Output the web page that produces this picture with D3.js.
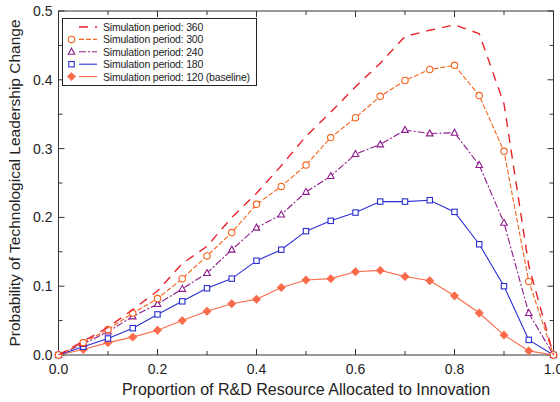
<!DOCTYPE html>
<html><head><meta charset="utf-8">
<script src="https://cdn.jsdelivr.net/npm/d3@7"></script>
<style>
html,body{margin:0;padding:0;background:#fff;}
svg{display:block;font-family:"Liberation Sans",Arial,Helvetica,sans-serif;}
</style></head>
<body>
<svg id="chart" width="560" height="402"></svg>
<script>
const xValues = [0,0.05,0.1,0.15,0.2,0.25,0.3,0.35,0.4,0.45,0.5,0.55,0.6,0.65,0.7,0.75,0.8,0.85,0.9,0.95,1.0];
const p360 = [0,0.02,0.04,0.066,0.093,0.133,0.158,0.2,0.235,0.275,0.318,0.353,0.39,0.424,0.463,0.472,0.48,0.467,0.365,0.13,0];
const p300 = [0,0.018,0.037,0.061,0.082,0.111,0.144,0.178,0.219,0.245,0.276,0.316,0.345,0.376,0.399,0.415,0.421,0.377,0.296,0.107,0];
const p240 = [0,0.016,0.034,0.056,0.074,0.096,0.119,0.153,0.185,0.204,0.237,0.260,0.292,0.306,0.327,0.322,0.323,0.276,0.192,0.061,0];
const p180 = [0,0.012,0.024,0.039,0.059,0.078,0.097,0.111,0.137,0.153,0.180,0.195,0.207,0.223,0.223,0.225,0.208,0.161,0.100,0.022,0];
const p120 = [0,0.008,0.018,0.026,0.036,0.050,0.0635,0.0746,0.081,0.098,0.109,0.111,0.121,0.123,0.114,0.108,0.086,0.061,0.029,0.006,0];
const seriesLabels = ["Simulation period: 360","Simulation period: 300","Simulation period: 240","Simulation period: 180","Simulation period: 120 (baseline)"];
const xTickLabels = ["0.0","0.2","0.4","0.6","0.8","1.0"];
const yTickLabels = ["0.0","0.1","0.2","0.3","0.4","0.5"];
const xTitle = "Proportion of R&D Resource Allocated to Innovation";
const yTitle = "Probability of Technological Leadership Change";

const styles = [
  {data:p360, color:"#e8222c", dash:"9,7", marker:null, width:1.4},
  {data:p300, color:"#f5641e", dash:"5,2", marker:"circle", width:1.1},
  {data:p240, color:"#8e1b8c", dash:"7,2,2,2", marker:"triangle", width:1.1},
  {data:p180, color:"#2b2fd0", dash:null, marker:"square", width:1.1},
  {data:p120, color:"#f96a4a", dash:null, marker:"diamond", width:1.1}
];

const svg = d3.select("#chart");
const L=58.5, R=553.5, T=11, B=355;
const x = d3.scaleLinear().domain([0,1]).range([L,R]);
const y = d3.scaleLinear().domain([0,0.5]).range([B,T]);

// frame
svg.append("rect").attr("x",L).attr("y",T).attr("width",R-L).attr("height",B-T)
  .attr("fill","none").attr("stroke","#333").attr("stroke-width",1);

// ticks (inward, all sides)
const xMajor = d3.range(0,1.0001,0.2), xMinor = d3.range(0.1,1,0.2);
const yMajor = d3.range(0,0.5001,0.1), yMinor = d3.range(0.05,0.5,0.1);
const tg = svg.append("g").attr("stroke","#333").attr("stroke-width",1);
function vt(v,len){ tg.append("line").attr("x1",x(v)).attr("x2",x(v)).attr("y1",B).attr("y2",B-len);
  tg.append("line").attr("x1",x(v)).attr("x2",x(v)).attr("y1",T).attr("y2",T+len); }
function ht(v,len){ tg.append("line").attr("y1",y(v)).attr("y2",y(v)).attr("x1",L).attr("x2",L+len);
  tg.append("line").attr("y1",y(v)).attr("y2",y(v)).attr("x1",R).attr("x2",R-len); }
xMajor.forEach(v=>vt(v,6)); xMinor.forEach(v=>vt(v,4));
yMajor.forEach(v=>ht(v,6)); yMinor.forEach(v=>ht(v,4));

// tick labels
svg.append("g").selectAll("text").data(xMajor).join("text")
  .attr("x",d=>x(d)).attr("y",B+19).attr("text-anchor","middle")
  .attr("font-size",14).attr("fill","#222").text((d,i)=>xTickLabels[i]);
svg.append("g").selectAll("text").data(yMajor).join("text")
  .attr("x",L-6).attr("y",d=>y(d)+5).attr("text-anchor","end")
  .attr("font-size",14).attr("fill","#222").text((d,i)=>yTickLabels[i]);

// titles
svg.append("text").attr("x",(L+R)/2).attr("y",395).attr("text-anchor","middle")
  .attr("font-size",16).attr("fill","#222").text(xTitle);
svg.append("text").attr("transform",`translate(20,${(T+B)/2}) rotate(-90)`)
  .attr("text-anchor","middle").attr("font-size",15.5).attr("fill","#222").text(yTitle);

// markers
function drawMarker(g,type,cx,cy,color){
  if(type==="circle") g.append("circle").attr("cx",cx).attr("cy",cy).attr("r",3.2).attr("fill","#fff").attr("stroke",color).attr("stroke-width",1.1);
  else if(type==="square") g.append("rect").attr("x",cx-2.7).attr("y",cy-2.7).attr("width",5.4).attr("height",5.4).attr("fill","#fff").attr("stroke",color).attr("stroke-width",1.1);
  else if(type==="triangle") g.append("path").attr("d",`M${cx},${cy-3.6}L${cx+3.3},${cy+2.4}L${cx-3.3},${cy+2.4}Z`).attr("fill","#fff").attr("stroke",color).attr("stroke-width",1.1);
  else if(type==="diamond") g.append("path").attr("d",`M${cx},${cy-4.2}L${cx+4.2},${cy}L${cx},${cy+4.2}L${cx-4.2},${cy}Z`).attr("fill",color).attr("stroke",color).attr("stroke-width",0.6);
}

const line = d3.line().x((d,i)=>x(xValues[i])).y(d=>y(d));
styles.slice().reverse().forEach(s=>{
  const g = svg.append("g");
  g.append("path").attr("d",line(s.data)).attr("fill","none").attr("stroke",s.color)
    .attr("stroke-width",s.width).attr("stroke-dasharray",s.dash);
  if(s.marker) s.data.forEach((d,i)=>drawMarker(g,s.marker,x(xValues[i]),y(d),s.color));
});

// legend
const lg = svg.append("g");
lg.append("rect").attr("x",62.5).attr("y",18.5).attr("width",194).attr("height",67)
  .attr("fill","#fff").attr("stroke","#222").attr("stroke-width",1);
styles.forEach((s,i)=>{
  const cy = 27 + i*12.4;
  lg.append("line").attr("x1",79).attr("x2",97).attr("y1",cy).attr("y2",cy)
    .attr("stroke",s.color).attr("stroke-width",s.width).attr("stroke-dasharray",s.dash);
  if(s.marker) drawMarker(lg,s.marker,71.5,cy,s.color);
  lg.append("text").attr("x",103).attr("y",cy+3.9).attr("font-size",10.5)
    .attr("letter-spacing","-0.2").attr("fill","#222").text(seriesLabels[i]);
});
</script>
</body></html>
